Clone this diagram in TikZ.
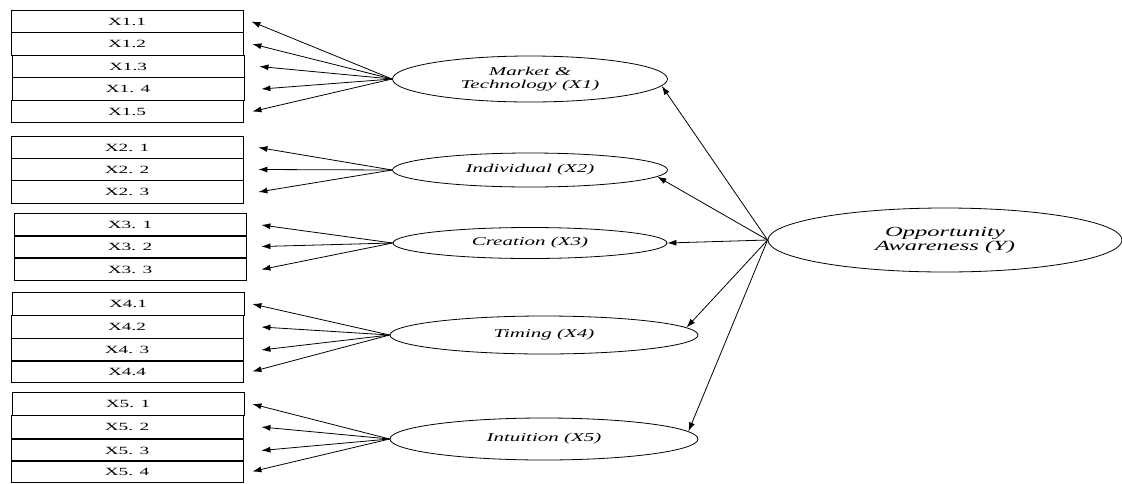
\documentclass[tikz,border=0pt]{standalone}
\usepackage{fontspec}
\setmainfont{Liberation Serif}[FakeStretch=1.75]
\usetikzlibrary{shapes.geometric,arrows.meta}
\begin{document}
\begin{tikzpicture}[x=1pt,y=-1pt,
  ind/.style={draw,line width=0.8pt,minimum width=232pt,minimum height=22.5pt,inner sep=0pt,font=\fontsize{11}{11}\selectfont},
  lat/.style={draw,ellipse,line width=0.8pt,inner sep=0pt,font=\fontsize{12}{12.5}\selectfont\itshape,align=center},
  arr/.style={line width=0.8pt,-{Latex[length=9pt,width=6pt]}}]
\useasboundingbox (0,0) rectangle (1122,483);
% group 1
\node[ind] (b11) at (127,21.5) {X1.1};
\node[ind] (b12) at (127,44) {X1.2};
\node[ind] (b13) at (128,66.5) {X1.3};
\node[ind] (b14) at (128,89) {X1. 4};
\node[ind] (b15) at (127,111.5) {X1.5};
% group 2
\node[ind] (b21) at (127,147.5) {X2. 1};
\node[ind] (b22) at (127,169.5) {X2. 2};
\node[ind] (b23) at (127,192) {X2. 3};
% group 3
\node[ind] (b31) at (130,225) {X3. 1};
\node[ind] (b32) at (130,246.5) {X3. 2};
\node[ind] (b33) at (130,269.5) {X3. 3};
% group 4
\node[ind] (b41) at (128,304) {X4.1};
\node[ind] (b42) at (127,327) {X4.2};
\node[ind] (b43) at (127,350) {X4. 3};
\node[ind] (b44) at (127,371.5) {X4.4};
% group 5
\node[ind] (b51) at (128,404) {X5. 1};
\node[ind] (b52) at (127,427) {X5. 2};
\node[ind] (b53) at (127,450.5) {X5. 3};
\node[ind] (b54) at (127,471.5) {X5. 4};
% latent
\node[lat,minimum width=275pt,minimum height=46pt] (e1) at (530,79) {Market \&\\Technology (X1)};
\node[lat,minimum width=275pt,minimum height=34pt] (e2) at (530,170) {Individual (X2)};
\node[lat,minimum width=274pt,minimum height=31pt] (e3) at (530,243) {Creation (X3)};
\node[lat,minimum width=308pt,minimum height=38pt] (e4) at (544,335) {Timing (X4)};
\node[lat,minimum width=308pt,minimum height=42pt] (e5) at (544,439) {Intuition (X5)};
\node[lat,minimum width=354pt,minimum height=64pt,font=\fontsize{14}{14}\selectfont\itshape] (y) at (945,240) {Opportunity\\Awareness (Y)};
% indicator arrows
\foreach \b/\s in {b11/8,b12/9,b13/15,b14/17,b15/9}{\draw[arr] (e1.west) -- ([xshift=\s pt]\b.east);}
\foreach \b/\s in {b21/15,b22/15,b23/15}{\draw[arr] (e2.west) -- ([xshift=\s pt]\b.east);}
\foreach \b/\s in {b31/15,b32/15,b33/15}{\draw[arr] (e3.west) -- ([xshift=\s pt]\b.east);}
\foreach \b/\s in {b41/8,b42/18,b43/18,b44/9}{\draw[arr] (e4.west) -- ([xshift=\s pt]\b.east);}
\foreach \b/\s in {b51/8,b52/18,b53/18,b54/9}{\draw[arr] (e5.west) -- ([xshift=\s pt]\b.east);}
% structural arrows
\draw[arr] (y.west) -- (e1.-3);
\draw[arr] (y.west) -- (e2.-3);
\draw[arr] (y.west) -- (e3.east);
\draw[arr] (y.west) -- (e4.3);
\draw[arr] (y.west) -- (e5.3);
\end{tikzpicture}
\end{document}
